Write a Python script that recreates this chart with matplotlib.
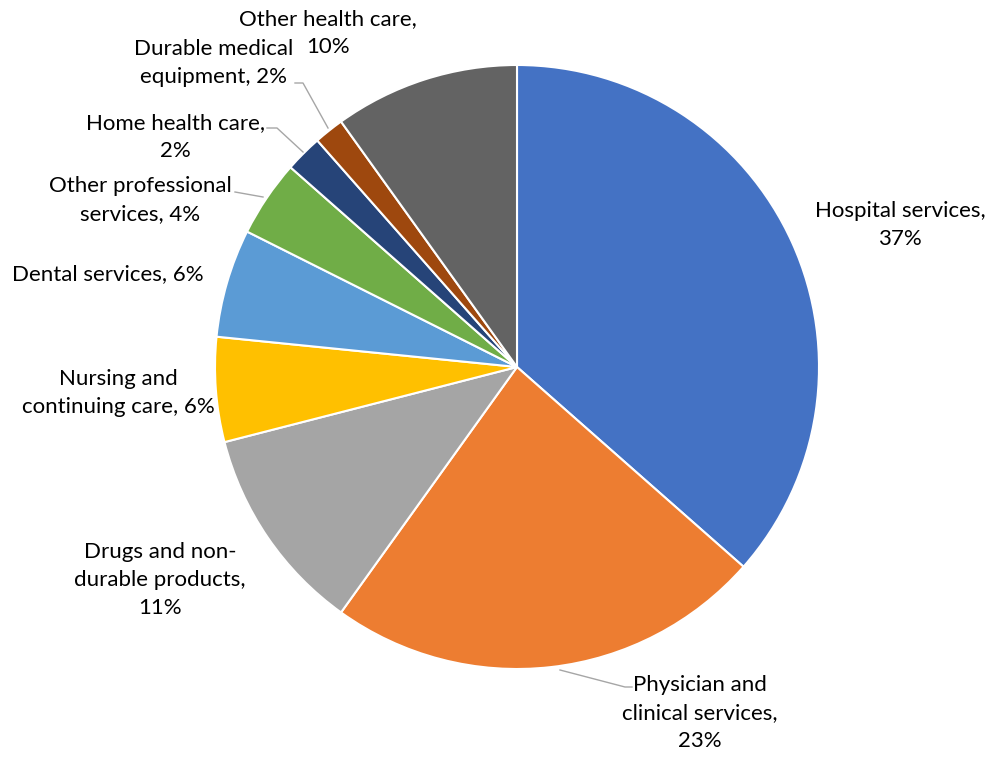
import matplotlib
matplotlib.use("Agg")
import matplotlib.pyplot as plt

categories = ["Hospital services", "Physician and clinical services",
              "Drugs and non-durable products", "Nursing and continuing care",
              "Dental services", "Other professional services",
              "Home health care", "Durable medical equipment",
              "Other health care"]
values = [36.5, 23.4, 11.1, 5.6, 5.8, 4.1, 2.0, 1.6, 9.9]
pct_labels = ["37%", "23%", "11%", "6%", "6%", "4%", "2%", "2%", "10%"]
label_texts = ["Hospital services,\n37%",
               "Physician and\nclinical services,\n23%",
               "Drugs and non-\ndurable products,\n11%",
               "Nursing and\ncontinuing care, 6%",
               "Dental services, 6%",
               "Other professional\nservices, 4%",
               "Home health care,\n2%",
               "Durable medical\nequipment, 2%",
               "Other health care,\n10%"]
colors = ["#4472C4", "#ED7D31", "#A5A5A5", "#FFC000", "#5B9BD5",
          "#70AD47", "#264478", "#9E480E", "#636363"]

W, H = 992, 757
fig = plt.figure(figsize=(W / 100, H / 100), dpi=100)
ax = fig.add_axes([0, 0, 1, 1])

cx, cy, r = 517, 367, 302
# inverted-y axes: counterclock=True renders clockwise visually; startangle -90 is top
ax.pie(values, colors=colors, center=(cx, cy), radius=r, startangle=-90,
       counterclock=True, frame=True,
       wedgeprops=dict(edgecolor="white", linewidth=1.5))
ax.set_xlim(0, W)
ax.set_ylim(H, 0)
ax.set_aspect("equal")
ax.axis("off")

font = dict(family=["Lato", "DejaVu Sans"], fontsize=16, color="black",
            ha="center", va="center", linespacing=1.5)

label_pos = [(900, 225), (700, 713), (160, 580), (118, 393), (108, 274),
             (140, 200), (175, 137), (214, 63), (328, 33)]
for txt, (x, y) in zip(label_texts, label_pos):
    ax.text(x, y, txt, **font)

lc = dict(color="#A6A6A6", linewidth=1.0)
ax.plot([560, 625, 632], [670, 687, 687], **lc)
ax.plot([235, 263], [192, 197], **lc)
ax.plot([267, 277, 303], [128, 128, 152], **lc)
ax.plot([295, 303, 328], [83, 83, 128], **lc)

fig.savefig("out.png", dpi=100, facecolor="white")
